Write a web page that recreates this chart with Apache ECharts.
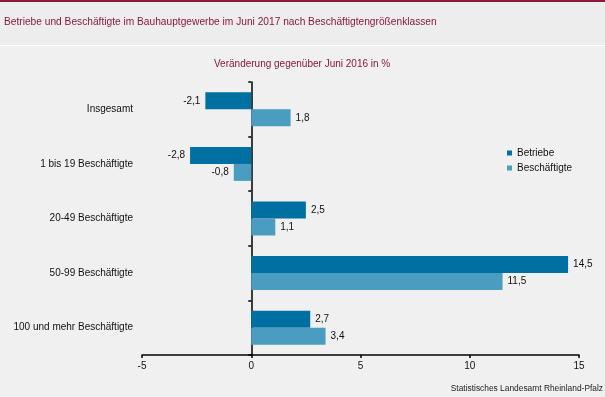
<!DOCTYPE html>
<html>
<head>
<meta charset="utf-8">
<script src="https://cdn.jsdelivr.net/npm/echarts@6/dist/echarts.min.js"></script>
<style>
html, body { margin: 0; padding: 0; background: #eff0ef; }
#chart { width: 605px; height: 397px; }
</style>
</head>
<body>
<div id="chart"></div>
<script>
var categories = ['Insgesamt', '1 bis 19 Beschäftigte', '20-49 Beschäftigte', '50-99 Beschäftigte', '100 und mehr Beschäftigte'];
var betriebe = [-2.1, -2.8, 2.5, 14.5, 2.7];
var beschaeftigte = [1.8, -0.8, 1.1, 11.5, 3.4];
var xTicks = [-5, 0, 5, 10, 15];

var font = 'Liberation Sans, Arial, sans-serif';

function withLabels(values) {
	return values.map(function (v) {
		return {
			value: v,
			label: { position: v < 0 ? 'left' : 'right' }
		};
	});
}

var chart = echarts.init(document.getElementById('chart'));
chart.setOption({
	backgroundColor: '#eff0ef',
	textStyle: { fontFamily: font },
	graphic: [
		{ type: 'rect', shape: { x: 0, y: 0, width: 605, height: 45 }, style: { fill: '#ededed' }, z: -1 },
		{ type: 'rect', shape: { x: 0, y: 0, width: 605, height: 2 }, style: { fill: '#8b1a3a' } },
		{ type: 'rect', shape: { x: 0, y: 45, width: 605, height: 1 }, style: { fill: '#ffffff' } },
		{
			type: 'text', left: 4, top: 17,
			style: { text: 'Betriebe und Beschäftigte im Bauhauptgewerbe im Juni 2017 nach Beschäftigtengrößenklassen', fill: '#8b1a3a', font: '10.2px ' + font }
		},
		{
			type: 'text', left: 214, top: 59,
			style: { text: 'Veränderung gegenüber Juni 2016 in %', fill: '#8b1a3a', font: '10px ' + font }
		},
		{
			type: 'text', right: 2, top: 385,
			style: { text: 'Statistisches Landesamt Rheinland-Pfalz', fill: '#222', font: '8.4px ' + font }
		}
	],
	legend: {
		orient: 'vertical',
		left: 502,
		top: 143,
		itemGap: 5,
		itemWidth: 5,
		itemHeight: 5,
		icon: 'rect',
		textStyle: { fontSize: 10, color: '#111', fontFamily: font },
		data: ['Betriebe', 'Beschäftigte']
	},
	grid: { left: 142, right: 26, top: 82, bottom: 42, containLabel: false, outerBoundsMode: 'none' },
	xAxis: {
		type: 'value',
		min: xTicks[0],
		max: xTicks[xTicks.length - 1],
		interval: 5,
		splitLine: { show: false },
		axisLine: { show: true, onZero: false, lineStyle: { color: '#000', width: 1.5 } },
		axisTick: { show: true, length: 3, lineStyle: { color: '#000', width: 1.5 } },
		axisLabel: { color: '#111', fontSize: 10, margin: 6, fontFamily: font }
	},
	yAxis: {
		type: 'category',
		data: categories,
		inverse: true,
		axisLine: { show: true, onZero: true, lineStyle: { color: '#000', width: 1.5 } },
		axisTick: { show: true, length: 3, lineStyle: { color: '#000', width: 1.5 } },
		axisLabel: {
			color: '#111', fontSize: 10, fontFamily: font,
			margin: 9
		}
	},
	series: [
		{
			name: 'Betriebe',
			type: 'bar',
			data: withLabels(betriebe),
			itemStyle: { color: '#0070a2' },
			barWidth: 17,
			barGap: '0%',
			label: {
				show: true, color: '#111', fontSize: 10, distance: 5, fontFamily: font,
				formatter: function (p) { return String(p.value).replace('.', ','); }
			}
		},
		{
			name: 'Beschäftigte',
			type: 'bar',
			data: withLabels(beschaeftigte),
			itemStyle: { color: '#4a9dc0' },
			barWidth: 17,
			label: {
				show: true, color: '#111', fontSize: 10, distance: 5, fontFamily: font,
				formatter: function (p) { return String(p.value).replace('.', ','); }
			}
		}
	]
});
</script>
</body>
</html>
